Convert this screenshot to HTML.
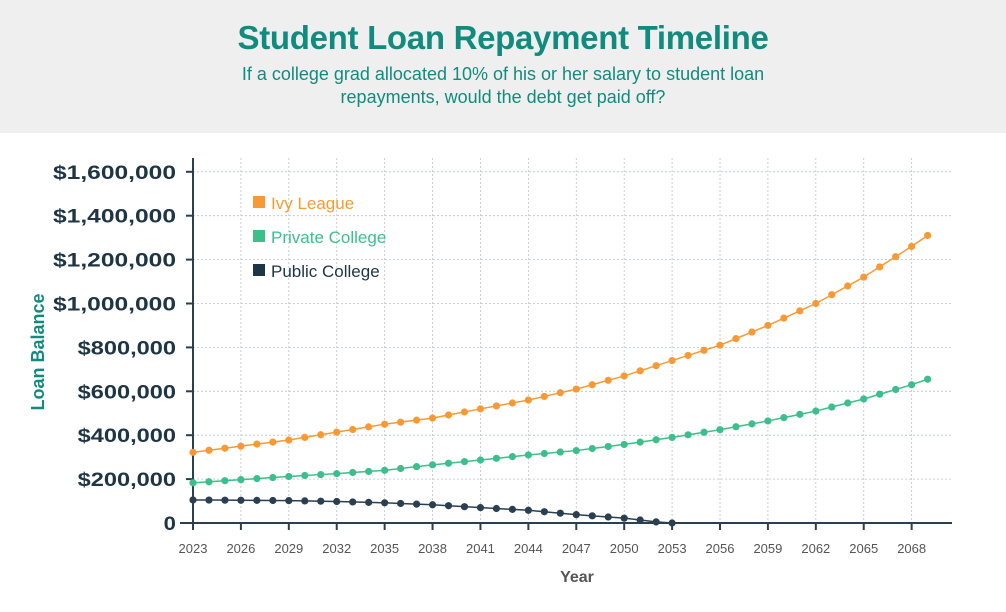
<!DOCTYPE html>
<html><head><meta charset="utf-8"><style>
body{margin:0;width:1006px;height:612px;background:#fff;overflow:hidden;font-family:"Liberation Sans",sans-serif}
.hdr{position:absolute;left:0;top:0;width:1006px;height:133px;background:#efefef;text-align:center}
.t{position:absolute;top:19px;width:100%;font-size:33px;font-weight:bold;color:#128b7f;letter-spacing:-0.3px}
.s{position:absolute;top:63px;width:100%;font-size:18px;color:#128b7f;line-height:23px}
</style></head><body>
<div class="hdr"><div class="t">Student Loan Repayment Timeline</div>
<div class="s">If a college grad allocated 10% of his or her salary to student loan<br>repayments, would the debt get paid off?</div></div>
<svg id="c" width="1006" height="612" style="position:absolute;left:0;top:0"></svg>
<script>
var s='',X=y=>193+(y-2023)*15.97,Y=v=>523-v/200000*43.9;
for(var i=1;i<=8;i++){var yy=Y(i*200000);s+=`<line x1="193" x2="952" y1="${yy}" y2="${yy}" stroke="#b8c4cc" stroke-width="0.8" stroke-dasharray="2,2"/>`;}
for(var yr=2026;yr<=2068;yr+=3){var xx=X(yr);s+=`<line x1="${xx}" x2="${xx}" y1="158" y2="523" stroke="#b8c4cc" stroke-width="0.8" stroke-dasharray="2,2"/>`;}
s+=`<line x1="193" x2="193" y1="158" y2="523" stroke="#2a3f4f" stroke-width="2"/><line x1="180" x2="952" y1="523" y2="523" stroke="#2a3f4f" stroke-width="2"/>`;
var labs=['0','$200,000','$400,000','$600,000','$800,000','$1,000,000','$1,200,000','$1,400,000','$1,600,000'];
labs.forEach((l,i)=>{var yy=Y(i*200000);var w=l.length*12.3;s+=`<line x1="186" x2="193" y1="${yy}" y2="${yy}" stroke="#2a3f4f" stroke-width="2"/><text x="${176-w}" y="${yy+7}" textLength="${w}" lengthAdjust="spacingAndGlyphs" font-size="19" font-weight="bold" fill="#1e3545" font-family="Liberation Sans">${l}</text>`;});
for(var yr=2023;yr<=2068;yr+=3){var xx=X(yr);s+=`<line x1="${xx}" x2="${xx}" y1="523" y2="530" stroke="#2a3f4f" stroke-width="2"/><text x="${xx}" y="553" text-anchor="middle" font-size="13" fill="#555" font-family="Liberation Sans">${yr}</text>`;}
s+=`<text x="577" y="582" text-anchor="middle" font-size="16" font-weight="bold" fill="#555">Year</text>`;
s+=`<text transform="translate(44,352) rotate(-90)" text-anchor="middle" font-size="18" font-weight="bold" fill="#128b7f">Loan Balance</text>`;
function interp(k,yr){for(var i=0;i<k.length-1;i++){if(yr>=k[i][0]&&yr<=k[i+1][0]){var t=(yr-k[i][0])/(k[i+1][0]-k[i][0]);return k[i][1]+(k[i+1][1]-k[i][1])*t;}}return k[k.length-1][1];}
function series(k,end,col){var p=[];for(var yr=2023;yr<=end;yr++)p.push([X(yr),Y(interp(k,yr))]);
s+=`<polyline points="${p.map(a=>a.join(',')).join(' ')}" fill="none" stroke="${col}" stroke-width="1.5"/>`;p.forEach(a=>s+=`<circle cx="${a[0]}" cy="${a[1]}" r="3.6" fill="${col}"/>`);}
series([[2023,322e3],[2029,378e3],[2035,450e3],[2038,478e3],[2041,520e3],[2044,560e3],[2047,610e3],[2050,670e3],[2053,740e3],[2056,810e3],[2059,900e3],[2062,1000e3],[2065,1120e3],[2068,1260e3],[2069,1310e3]],2069,'#f79a35');
series([[2023,183e3],[2029,212e3],[2032,225e3],[2035,240e3],[2038,265e3],[2041,287e3],[2044,310e3],[2047,330e3],[2050,358e3],[2053,390e3],[2056,425e3],[2059,465e3],[2062,510e3],[2065,565e3],[2068,630e3],[2069,655e3]],2069,'#3dbf8c');
series([[2023,105e3],[2029,102e3],[2032,98e3],[2035,92e3],[2038,83e3],[2041,70e3],[2044,58e3],[2047,38e3],[2050,22e3],[2052,5e3],[2053,0]],2053,'#2a3f4f');
[['Ivy League','#f79a35',203],['Private College','#3dbf8c',237],['Public College','#1e3545',271]].forEach(l=>{s+=`<rect x="253" y="${l[2]-7}" width="12" height="12" fill="${l[1]}"/><text x="271" y="${l[2]+6}" font-size="17" fill="${l[1]}">${l[0]}</text>`;});
document.getElementById('c').innerHTML=s;
</script>
</body></html>
